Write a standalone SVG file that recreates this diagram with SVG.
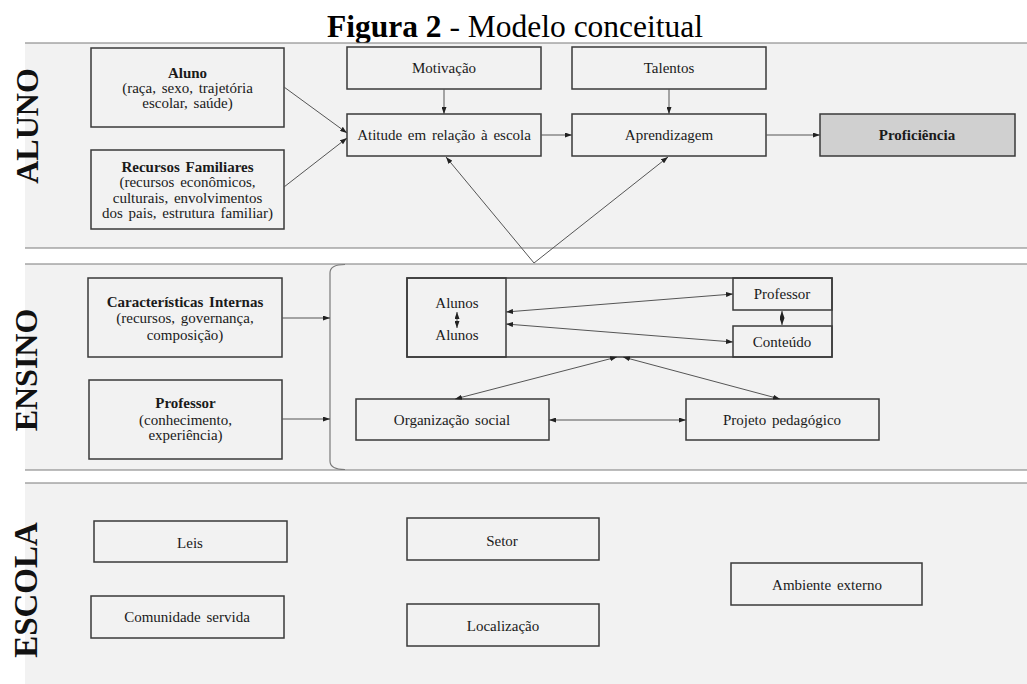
<svg xmlns="http://www.w3.org/2000/svg" width="1027" height="684" viewBox="0 0 1027 684">
<style>
text{font-family:"Liberation Serif","Times New Roman",serif;fill:#1a1a1a}
.t{font-size:15px;text-anchor:middle;word-spacing:2px}
.b{font-weight:bold}
.lab{font-size:32px;font-weight:bold;text-anchor:middle;fill:#111}
.box{fill:none;stroke:#3a3a3a;stroke-width:1.5}
.band{fill:#f2f2f2}
.bl{stroke:#7a7a7a;stroke-width:1.2;fill:none}
.c{stroke:#555;stroke-width:1;fill:none;marker-end:url(#ah)}
.d{stroke:#555;stroke-width:1;fill:none;marker-end:url(#ah);marker-start:url(#ah)}
</style>
<defs>
<marker id="ah" viewBox="0 0 7 5" refX="7" refY="2.5" markerWidth="7" markerHeight="5" markerUnits="userSpaceOnUse" orient="auto-start-reverse">
<path d="M0,0 L7,2.5 L0,5 z" fill="#222"/>
</marker>
</defs>
<rect width="1027" height="684" fill="#fff"/>
<text x="515" y="37" style="font-size:31.5px;text-anchor:middle;fill:#000"><tspan font-weight="bold">Figura 2</tspan> - Modelo conceitual</text>

<g id="band-aluno">
<rect class="band" x="25" y="43" width="1002" height="205"/>
<line class="bl" x1="25" y1="43" x2="1027" y2="43"/>
<line class="bl" x1="25" y1="248" x2="1027" y2="248"/>
<text class="lab" transform="translate(38,126) rotate(-90)">ALUNO</text>
</g>
<g id="band-ensino">
<rect class="band" x="25" y="264" width="1002" height="206"/>
<line class="bl" x1="25" y1="264" x2="1027" y2="264"/>
<line class="bl" x1="25" y1="470" x2="1027" y2="470"/>
<text class="lab" transform="translate(37,370) rotate(-90)">ENSINO</text>
<path class="bl" d="M345,264.5 Q330,264.5 330,273 L330,461 Q330,469.5 345,469.5"/>
</g>
<g id="band-escola">
<rect class="band" x="25" y="483" width="1002" height="201"/>
<line class="bl" x1="25" y1="483" x2="1027" y2="483"/>
<text class="lab" style="font-size:33px" transform="translate(37,590) rotate(-90)">ESCOLA</text>
</g>

<g id="aluno"><rect class="box" x="91" y="48" width="193" height="79"/>
<text class="t b" x="187.5" y="78">Aluno</text>
<text class="t" x="187.5" y="93">(raça, sexo, trajetória</text>
<text class="t" x="187.5" y="108">escolar, saúde)</text></g>
<g id="recursos"><rect class="box" x="91" y="150" width="193" height="79"/>
<text class="t b" x="187.5" y="172">Recursos Familiares</text>
<text class="t" x="187.5" y="187">(recursos econômicos,</text>
<text class="t" x="187.5" y="203">culturais, envolvimentos</text>
<text class="t" x="187.5" y="218">dos pais, estrutura familiar)</text></g>
<g id="motivacao"><rect class="box" x="347" y="47" width="194" height="42"/>
<text class="t" x="444" y="73">Motivação</text></g>
<g id="atitude"><rect class="box" x="347" y="114" width="194" height="42"/>
<text class="t" x="444" y="140">Atitude em relação à escola</text></g>
<g id="talentos"><rect class="box" x="572" y="47" width="194" height="42"/>
<text class="t" x="669" y="73">Talentos</text></g>
<g id="aprendizagem"><rect class="box" x="572" y="114" width="194" height="42"/>
<text class="t" x="669" y="140">Aprendizagem</text></g>
<g id="proficiencia"><rect class="box" x="820" y="114" width="195" height="42" style="fill:#d0d0d0"/>
<text class="t b" x="917" y="140">Proficiência</text></g>

<g id="caracteristicas"><rect class="box" x="88" y="278" width="194" height="79"/>
<text class="t b" x="185" y="307">Características Internas</text>
<text class="t" x="185" y="323">(recursos, governança,</text>
<text class="t" x="185" y="340">composição)</text></g>
<g id="professor-ensino"><rect class="box" x="89" y="380" width="193" height="79"/>
<text class="t b" x="185.5" y="408">Professor</text>
<text class="t" x="185.5" y="425">(conhecimento,</text>
<text class="t" x="185.5" y="440">experiência)</text></g>
<g id="sala"><rect class="box" x="407" y="278" width="425" height="79"/></g>
<g id="alunos"><rect class="box" x="407" y="278" width="99" height="79"/>
<text class="t" x="457" y="308">Alunos</text>
<text class="t" x="457" y="340">Alunos</text></g>
<g id="professor"><rect class="box" x="733" y="278" width="99" height="32"/>
<text class="t" x="782" y="299">Professor</text></g>
<g id="conteudo"><rect class="box" x="733" y="326" width="99" height="31"/>
<text class="t" x="782" y="347">Conteúdo</text></g>
<g id="organizacao"><rect class="box" x="356" y="399" width="193" height="41"/>
<text class="t" x="452" y="425">Organização social</text></g>
<g id="projeto"><rect class="box" x="686" y="399" width="193" height="41"/>
<text class="t" x="782" y="425">Projeto pedagógico</text></g>

<g id="leis"><rect class="box" x="94" y="521" width="193" height="41"/>
<text class="t" x="190" y="548">Leis</text></g>
<g id="comunidade"><rect class="box" x="91" y="596" width="193" height="42"/>
<text class="t" x="187" y="622">Comunidade servida</text></g>
<g id="setor"><rect class="box" x="407" y="518" width="192" height="42"/>
<text class="t" x="502" y="546">Setor</text></g>
<g id="localizacao"><rect class="box" x="407" y="604" width="192" height="42"/>
<text class="t" x="503" y="631">Localização</text></g>
<g id="ambiente"><rect class="box" x="731" y="563" width="191" height="42"/>
<text class="t" x="827" y="590">Ambiente externo</text></g>

<g id="connectors">
<line class="c" x1="284" y1="87" x2="347" y2="133"/>
<line class="c" x1="284" y1="187" x2="347" y2="138"/>
<line class="c" x1="444" y1="89" x2="444" y2="114"/>
<line class="c" x1="669" y1="89" x2="669" y2="114"/>
<line class="c" x1="541" y1="135" x2="572" y2="135"/>
<line class="c" x1="766" y1="135" x2="820" y2="135"/>
<line class="c" x1="534" y1="263" x2="446" y2="157"/>
<line class="c" x1="534" y1="263" x2="668" y2="157"/>
<line class="c" x1="282" y1="318" x2="330" y2="318"/>
<line class="c" x1="282" y1="419" x2="330" y2="419"/>
<line class="d" x1="506" y1="312" x2="733" y2="294"/>
<line class="d" x1="506" y1="324" x2="733" y2="342"/>
<line class="d" x1="782" y1="311" x2="782" y2="325"/>
<line class="d" x1="457" y1="312" x2="457" y2="328"/>
<line class="d" x1="455" y1="399" x2="617" y2="357"/>
<line class="d" x1="780" y1="399" x2="623" y2="357"/>
<line class="d" x1="549" y1="420" x2="686" y2="420"/>
</g>
</svg>
